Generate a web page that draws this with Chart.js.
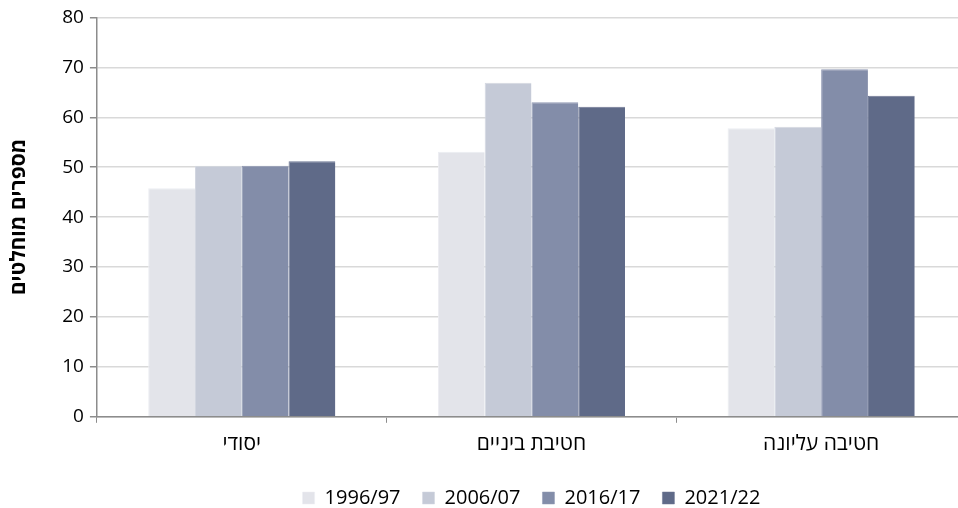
<!DOCTYPE html>
<html lang="he">
<head>
<meta charset="utf-8">
<script src="https://cdn.jsdelivr.net/npm/chart.js@4"></script>
<style>
  html, body { margin: 0; padding: 0; background: #fff; overflow: hidden; }
  .wrap { position: relative; width: 972px; height: 508px; }
</style>
</head>
<body>
<div class="wrap"><canvas id="chart"></canvas></div>
<script>
// categories (school levels) and years
const categories = ['יסודי', 'חטיבת ביניים', 'חטיבה עליונה'];
const years = ['1996/97', '2006/07', '2016/17', '2021/22'];

// values per year, one per category
const v1996 = [45.8, 53.1, 57.8];
const v2006 = [50.3, 66.9, 58.1];
const v2016 = [50.3, 63.0, 69.6];
const v2021 = [51.2, 62.1, 64.3];

const yTicks = [0, 10, 20, 30, 40, 50, 60, 70, 80];
const yTitle = 'מספרים מוחלטים';

const colors = ['#e3e4ea', '#c5cad7', '#838da9', '#5f6a88'];
const borders = ['#eceef2', '#d3d7e0', '#9099b3', '#6d7793'];

const FONT = "'Open Sans', 'DejaVu Sans', sans-serif";
const series = [v1996, v2006, v2016, v2021];

new Chart(document.getElementById('chart'), {
  type: 'bar',
  data: {
    labels: categories,
    datasets: years.map((y, i) => ({
      label: y,
      data: series[i],
      backgroundColor: colors[i],
      borderColor: borders[i],
      borderWidth: { top: 1, left: 1, right: 0, bottom: 0 },
      borderSkipped: 'bottom',
      barPercentage: 1,
      categoryPercentage: 0.646
    }))
  },
  options: {
    responsive: true,
    maintainAspectRatio: false,
    animation: false,
    layout: { padding: { top: 16, right: 6, left: 6, bottom: -10 } },
    plugins: {
      tooltip: { enabled: false },
      legend: {
        position: 'bottom',
        fullSize: false,
        labels: {
          color: '#000',
          font: { family: FONT, size: 20 },
          boxWidth: 12,
          boxHeight: 12,
          padding: 22
        }
      }
    },
    scales: {
      x: {
        grid: {
          display: true,
          drawOnChartArea: false,
          drawTicks: true,
          tickLength: 6,
          color: '#8c8c8c',
          offset: true
        },
        border: { color: '#8c8c8c', width: 1.5 },
        ticks: {
          color: '#000',
          font: { family: FONT, size: 21 },
          padding: 9
        }
      },
      y: {
        min: 0,
        max: 80,
        afterBuildTicks(axis) { axis.ticks = yTicks.map(v => ({ value: v })); },
        grid: { color: '#d9d9d9', lineWidth: 1.5, tickLength: 7, tickColor: '#8c8c8c' },
        border: { color: '#8c8c8c', width: 1.5 },
        ticks: {
          color: '#000',
          font: { family: FONT, size: 19 },
          padding: 6
        },
        title: {
          display: true,
          text: yTitle,
          color: '#000',
          font: { family: FONT, size: 21, weight: 'bold' },
          padding: { top: 0, bottom: 25 }
        }
      }
    }
  }
});
</script>
</body>
</html>
